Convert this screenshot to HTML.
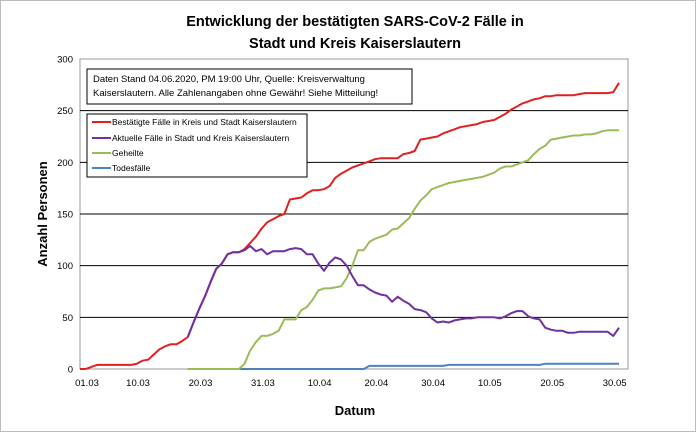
<!DOCTYPE html>
<html><head><meta charset="utf-8"><style>
body{margin:0;background:#fff;}
svg text{font-family:"Liberation Sans",sans-serif;}
</style></head><body>
<svg id="chart" width="696" height="432" viewBox="0 0 696 432" xmlns="http://www.w3.org/2000/svg">
<rect x="0.5" y="0.5" width="695" height="431" fill="#fff" stroke="#bbb"/>
<text x="355" y="26" text-anchor="middle" font-size="14.5" font-weight="bold">Entwicklung der bestätigten SARS-CoV-2 Fälle in</text>
<text x="355" y="48" text-anchor="middle" font-size="14.5" font-weight="bold">Stadt und Kreis Kaiserslautern</text>
<rect x="80" y="59" width="548" height="310" fill="#fff" stroke="#999"/>
<g id="grid"></g>
<g id="series"></g>
<g id="axes"></g>
<text x="355" y="415" text-anchor="middle" font-size="13" font-weight="bold">Datum</text>
<text transform="translate(47,214) rotate(-90)" text-anchor="middle" font-size="13" font-weight="bold">Anzahl Personen</text>
<g>
<rect x="87" y="69" width="325" height="35" fill="#fff" stroke="#000"/>
<text x="93" y="82" font-size="9.5">Daten Stand 04.06.2020, PM 19:00 Uhr, Quelle: Kreisverwaltung</text>
<text x="93" y="96" font-size="9.5">Kaiserslautern. Alle Zahlenangaben ohne Gewähr! Siehe Mitteilung!</text>
</g>
<g>
<rect x="87" y="114" width="220" height="63" fill="#fff" stroke="#000"/>
<g><line x1="92" y1="122" x2="111" y2="122" stroke="#e02020" stroke-width="2"/><text x="112" y="125" font-size="8.5">Bestätigte Fälle in Kreis und Stadt Kaiserslautern</text></g>
<g><line x1="92" y1="138" x2="111" y2="138" stroke="#7030a0" stroke-width="2"/><text x="112" y="141" font-size="8.5">Aktuelle Fälle in Stadt und Kreis Kaiserslautern</text></g>
<g><line x1="92" y1="153" x2="111" y2="153" stroke="#9bbb59" stroke-width="2"/><text x="112" y="156" font-size="8.5">Geheilte</text></g>
<g><line x1="92" y1="168" x2="111" y2="168" stroke="#4f81bd" stroke-width="2"/><text x="112" y="171" font-size="8.5">Todesfälle</text></g>
</g>
</svg>
<script>
const yTicks=[0,50,100,150,200,250,300];
const xLabels=["01.03","10.03","20.03","31.03","10.04","20.04","30.04","10.05","20.05","30.05"];
const xLabelIdx=[0,9,20,31,41,51,61,71,82,93];
const confirmed=[0,0,2,4,4,4,4,4,4,4,5,8,9,14,19,22,24,24,27,31,45,58,70,84,97,102,111,113,113,116,122,128,136,142,145,148,150,164,165,166,170,173,173,174,177,185,189,192,195,197,199,201,203,204,204,204,204,208,209,211,222,223,224,225,228,230,232,234,235,236,237,239,240,241,244,247,251,254,257,259,261,262,264,264,265,265,265,265,266,267,267,267,267,267,268,277];
const active=[null,null,null,null,null,null,null,null,null,null,null,null,null,null,null,null,null,null,null,31,45,58,70,84,97,102,111,113,113,115,119,114,116,111,114,114,114,116,117,116,111,111,102,95,103,108,106,100,90,81,81,77,74,72,71,65,70,66,63,58,57,55,49,45,46,45,47,48,49,49,50,50,50,50,49,51,54,56,56,51,49,48,40,38,37,37,35,35,36,36,36,36,36,36,32,40];
const recovered=[null,null,null,null,null,null,null,null,null,null,null,null,null,null,null,null,null,null,null,0,0,0,0,0,0,0,0,0,0,5,18,26,32,32,34,37,48,48,48,57,60,67,76,78,78,79,80,88,100,115,115,123,126,128,130,135,136,141,146,155,163,168,174,176,178,180,181,182,183,184,185,186,188,190,194,196,196,198,200,202,208,213,216,222,223,224,225,226,226,227,227,228,230,231,231,231];
const deaths=[null,null,null,null,null,null,null,null,null,null,null,null,null,null,null,null,null,null,null,0,0,0,0,0,0,0,0,0,0,0,0,0,0,0,0,0,0,0,0,0,0,0,0,0,0,0,0,0,0,0,0,3,3,3,3,3,3,3,3,3,3,3,3,3,3,4,4,4,4,4,4,4,4,4,4,4,4,4,4,4,4,4,5,5,5,5,5,5,5,5,5,5,5,5,5,5];
const NS="http://www.w3.org/2000/svg";
const X0=80,X1=619,Y0=369,Y1=59,N=confirmed.length;
function xs(i){return X0+i*(X1-X0)/(N-1);}
function ys(v){return Y0-v*(Y0-Y1)/300;}
const grid=document.getElementById('grid'),axes=document.getElementById('axes'),ser=document.getElementById('series');
yTicks.forEach(t=>{
 if(t>0&&t<300){const l=document.createElementNS(NS,'line');
 l.setAttribute('x1',80);l.setAttribute('x2',628);l.setAttribute('y1',ys(t));l.setAttribute('y2',ys(t));
 l.setAttribute('stroke','#000');l.setAttribute('stroke-width','1');
 
 
 grid.appendChild(l);}
 const tx=document.createElementNS(NS,'text');
 tx.setAttribute('x',73);tx.setAttribute('y',ys(t)+3.5);tx.setAttribute('text-anchor','end');tx.setAttribute('font-size','9.5');
 tx.textContent=t;
 
 
 axes.appendChild(tx);
});
xLabels.forEach((s,k)=>{
 const tx=document.createElementNS(NS,'text');
 tx.setAttribute('x',xs(xLabelIdx[k])+7);tx.setAttribute('y',386);tx.setAttribute('text-anchor','middle');tx.setAttribute('font-size','9.5');
 tx.textContent=s;
 
 
 axes.appendChild(tx);
});
function line(arr,color,name){
 let d='',pen=false;
 arr.forEach((v,i)=>{if(v==null){pen=false;return;}d+=(pen?'L':'M')+xs(i).toFixed(1)+' '+ys(v).toFixed(1);pen=true;});
 const p=document.createElementNS(NS,'path');
 p.setAttribute('d',d);p.setAttribute('fill','none');p.setAttribute('stroke',color);p.setAttribute('stroke-width','2');p.setAttribute('stroke-linejoin','round');
 
 
 ser.appendChild(p);
}
line(deaths,'#4f81bd','line-deaths');
line(recovered,'#9bbb59','line-recovered');
line(confirmed,'#e02020','line-confirmed');
line(active,'#7030a0','line-active');
</script>
</body></html>
